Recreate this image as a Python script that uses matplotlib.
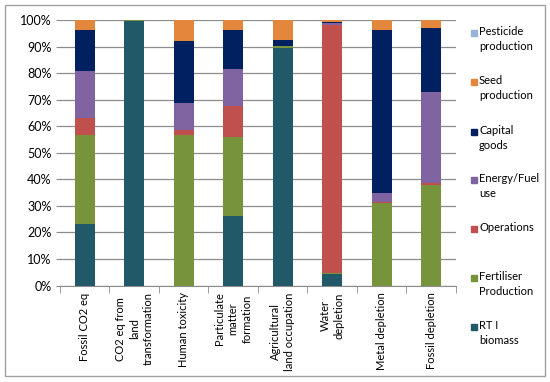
import matplotlib.pyplot as plt
from matplotlib.patches import Rectangle
from matplotlib.ticker import FuncFormatter, FixedLocator
import numpy as np

plt.rcParams['font.family'] = ['Lato', 'DejaVu Sans']

categories = ["Fossil CO2 eq", "CO2 eq from\nland\ntransformation", "Human toxicity",
              "Particulate\nmatter\nformation", "Agricultural\nland occupation",
              "Water\ndepletion", "Metal depletion", "Fossil depletion"]

# percent shares per category (stack order bottom -> top)
rt_biomass  = [23.1, 99.7, 0.0, 26.2, 89.7, 4.4, 0.0, 0.0]
fertiliser  = [33.5, 0.3, 56.6, 29.9, 0.5, 0.5, 31.1, 37.9]
operations  = [6.7, 0.0, 2.1, 11.7, 0.0, 93.4, 0.5, 0.6]
energy_fuel = [17.5, 0.0, 10.2, 13.7, 0.0, 0.8, 3.4, 34.5]
capital     = [15.7, 0.0, 23.4, 15.0, 2.5, 0.3, 61.5, 24.1]
seed        = [3.5, 0.0, 7.7, 3.5, 7.3, 0.6, 3.5, 2.9]
pesticide   = [0.0, 0.0, 0.0, 0.0, 0.0, 0.0, 0.0, 0.0]

series = [
    ("RT I\nbiomass", rt_biomass, "#215968"),
    ("Fertiliser\nProduction", fertiliser, "#77933C"),
    ("Operations", operations, "#C0504D"),
    ("Energy/Fuel\nuse", energy_fuel, "#8064A2"),
    ("Capital\ngoods", capital, "#002060"),
    ("Seed\nproduction", seed, "#E3873D"),
    ("Pesticide\nproduction", pesticide, "#95B3D7"),
]

fig = plt.figure(figsize=(5.5, 3.82), dpi=100)
ax = fig.add_axes([0.109, 0.2526, 0.72, 0.6943])

x = np.arange(len(categories))
bottom = np.zeros(len(categories))
for name, vals, col in series:
    ax.bar(x, vals, 0.41, bottom=bottom, color=col, zorder=3)
    bottom += np.array(vals)

ax.set_xlim(-0.5, len(categories) - 0.5)
ax.set_ylim(0, 100)
ax.set_yticks(np.arange(0, 101, 10))
ax.yaxis.set_major_formatter(FuncFormatter(lambda v, p: "%d%%" % v))
ax.grid(axis="y", color="#8C8C8C", linewidth=0.9, zorder=0)
ax.tick_params(axis="y", length=3, color="#8C8C8C", labelsize=9, pad=3)

ax.set_xticks(x)
ax.set_xticklabels(categories, rotation=90, ha="center", va="top",
                   multialignment="center", fontsize=8, linespacing=1.3)
ax.tick_params(axis="x", length=0, pad=5)
ax.xaxis.set_minor_locator(FixedLocator(np.arange(-0.5, len(categories), 1)))
ax.tick_params(axis="x", which="minor", length=5, color="#8C8C8C")

for s in ["top", "right", "left"]:
    ax.spines[s].set_visible(False)
ax.spines["bottom"].set_color("#8C8C8C")

# legend drawn in figure space
ys = [0.9136, 0.785, 0.654, 0.529, 0.401, 0.272, 0.144]
for (name, vals, col), yy in zip(reversed(series), ys):
    fig.patches.append(Rectangle((0.857, yy - 0.008), 0.011, 0.0157,
                                 transform=fig.transFigure, color=col))
    fig.text(0.871, yy + 0.018, name, ha="left", va="top", fontsize=8,
             linespacing=1.45)

fig.patches.append(Rectangle((0.009, 0.015), 0.981, 0.972, transform=fig.transFigure,
                             fill=False, edgecolor="#A0A0A0", linewidth=1.0))

fig.savefig("out.png", dpi=100)
